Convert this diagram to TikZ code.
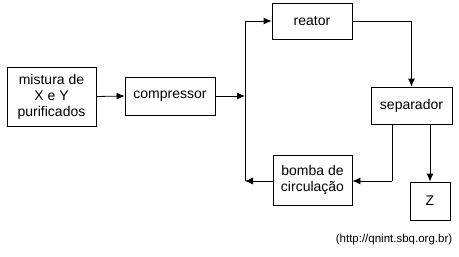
\documentclass[tikz,border=0pt]{standalone}
\usepackage{fontspec}
\setmainfont{Liberation Sans}
\usetikzlibrary{calc,positioning,arrows.meta}

\begin{document}
\begin{tikzpicture}[x=1pt, y=-1pt, line width=0.8pt,
        >={Latex[length=8pt,width=7pt]}, font=\fontsize{14}{16}\selectfont]
        \tikzset{blk/.style={draw, rectangle, inner sep=0pt, align=center}}
        \useasboundingbox (0,0) rectangle (459,257);
        %% Bloques
        \node[blk, minimum width=89pt, minimum height=59pt] (mix) at (51.5, 96.5) {mistura de\\X e Y\\purificados};
        \node[blk, minimum width=90pt, minimum height=38pt] (cmp) at (170, 96)   {compressor};
        \node[blk, minimum width=80pt, minimum height=36pt] (rea) at (312, 21)   {reator};
        \node[blk, minimum width=81pt, minimum height=37pt] (sep) at (411.5,105.5) {separador};
        \node[blk, minimum width=79pt, minimum height=50pt] (bmb) at (312.5,180)  {bomba de\\circulação};
        \node[blk, minimum width=40pt, minimum height=38pt] (Z)   at (430, 201)  {Z};
        %% Pontos auxiliares
        \coordinate (jtop) at (245, 21);
        \coordinate (jmid) at (245, 96);
        \coordinate (jbot) at (245, 181);
        \coordinate (stap) at (392, 124);
        \coordinate (sbot) at (392, 181);
        %% Linha principal
        \draw[->] (mix.east) -- (cmp.west);
        \draw[->] (cmp.east) -- (jmid);
        \draw (jtop) -- (jbot);
        \draw[->] (jtop) -- (rea.west);
        \draw[->] (rea.east) -| (sep.north);
        \draw[->] (Z.north |- sep.south) -- (Z.north);
        %% Reciclo
        \draw (stap) -- (sbot);
        \draw[->] (sbot) -- (bmb.east |- sbot);
        \draw[->] (bmb.west |- jbot) -- (jbot);
        %% Fonte
        \node[font=\fontsize{11.5}{13}\selectfont] (src) at (394, 240) {(http://qnint.sbq.org.br)};
    \end{tikzpicture}
\end{document}
